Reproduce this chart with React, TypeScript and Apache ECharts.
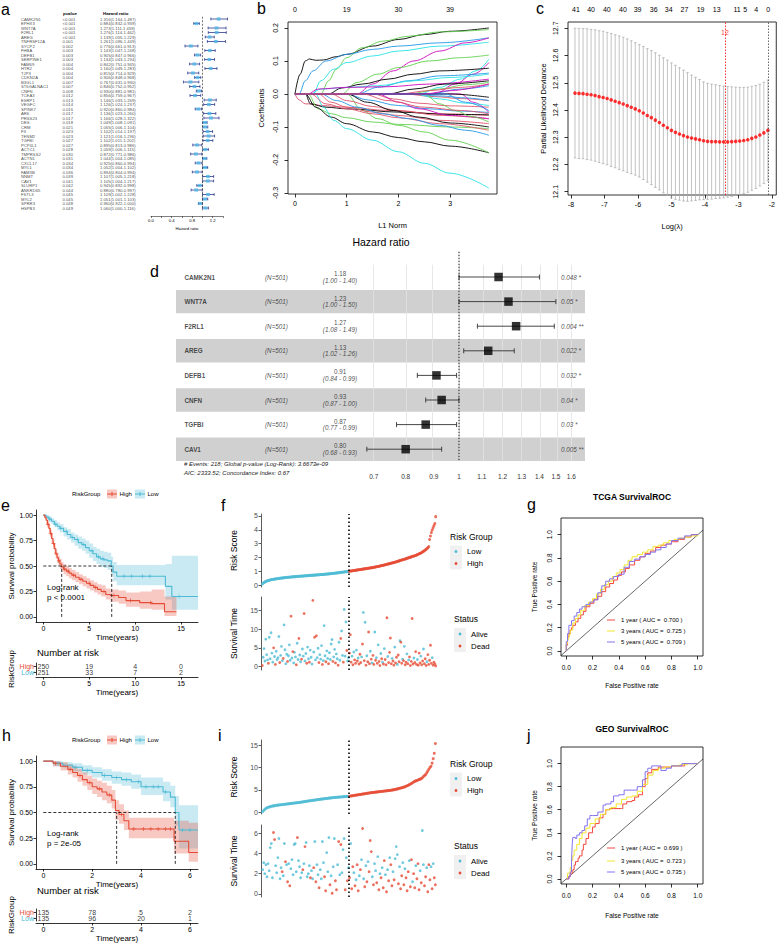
import React, { useEffect, useRef } from "react";
import * as echarts from "echarts";

const FONT = "'Liberation Sans', Arial, Helvetica, sans-serif";
const RED = "#E64B35";
const CYAN = "#4DBBD5";
const RED_FILL = "rgba(230,75,53,0.30)";
const CYAN_FILL = "rgba(77,187,213,0.30)";
const ROC_COLORS = ["#F2483C", "#F2E530", "#8574F0"];
const ROC_LABELS = ["1 year", "3 years", "5 years"];
const R_PAL: any = { k: "#000000", r: "#DF536B", g: "#61D04F", b: "#2297E6", c: "#28E2E5", m: "#CD0BBC" };

// ---------------- panel a : univariate Cox ----------------
const A_GENES = ["CAMK2N1","EPHX3","WNT7A","F2RL1","AREG","TNFRSF12A","SYCP2","FHBA","DEFB1","SERPINE1","FAM69","HTR2","TJP3","CDKN2A","B3GL1","ST6GALNAC1","CNFN","TCEA3","ESRP1","VEGFC","SPINK7","AR6","PRSS23","DES","CRM","F3","TENM2","TGFBI","PCP4L1","ACTC1","TMPRSS2","ACTN1","CXCL17","MYL1","FAM3B","NNMT","CAV1","SLURP1","ANKRD65","FSTL3","MYL2","SPRR3","HSPB3"];
const A_PVAL = ["<0.001","<0.001","<0.001","<0.001","<0.001","0.001","0.002","0.003","0.003","0.003","0.004","0.004","0.004","0.004","0.007","0.007","0.008","0.012","0.013","0.014","0.016","0.017","0.017","0.018","0.021","0.023","0.023","0.027","0.027","0.028","0.030","0.031","0.034","0.034","0.036","0.039","0.041","0.042","0.044","0.045","0.045","0.048","0.049"];
const A_HR = [1.316,0.884,1.273,1.276,1.139,1.261,0.776,1.143,0.905,1.134,0.842,1.160,0.815,0.906,0.767,0.846,0.930,0.856,1.146,1.126,0.920,1.136,1.166,1.049,1.055,1.102,1.121,1.102,0.895,1.059,0.872,1.044,0.925,1.052,0.894,1.107,1.105,0.945,0.880,1.109,1.051,0.960,1.060];
const A_LOW = [1.164,0.832,1.111,1.114,1.055,1.096,0.661,1.047,0.847,1.043,0.751,1.049,0.714,0.848,0.631,0.752,0.881,0.759,1.033,1.024,0.860,1.023,1.028,1.008,1.006,1.014,1.016,1.011,0.813,1.006,0.771,1.004,0.860,1.004,0.804,1.005,1.004,0.892,0.780,1.002,1.001,0.922,1.000];
const A_HIGH = [1.487,0.939,1.459,1.462,1.229,1.449,0.913,1.248,0.966,1.234,0.945,1.283,0.929,0.968,0.930,0.952,0.981,0.967,1.269,1.237,0.984,1.260,1.322,1.091,1.104,1.197,1.236,1.202,0.986,1.115,0.986,1.085,0.994,1.102,0.994,1.218,1.217,0.998,0.997,1.228,1.103,1.000,1.116];
const A_TICKS = [0, 0.2, 0.4, 0.6, 0.8, 1.0, 1.2, 1.4];
const A_LABELS = [0, 0.4, 0.8, 1.2];

// ---------------- panel b : LASSO paths ----------------
const B_COLORS = ["k","g","b","c","m","g","c","m","k","b","c","m","k","g","r","b","r","k","g","k","c","g","r","r","r","r","r","b","b","b","k","m","m","c","g","k","b","m","r"];
const B_PATHS = [
  [[0,0],[0.1,0.06],[0.2,0.1],[0.28,0.106],[0.4,0.102],[0.55,0.103],[0.8,0.113],[1.0,0.12],[1.5,0.145],[2.0,0.165],[2.5,0.18],[3.0,0.19],[3.75,0.2]],
  [[0,0],[0.5,0],[0.65,0.04],[0.8,0.075],[1.0,0.11],[1.3,0.14],[1.7,0.16],[2.2,0.175],[2.8,0.188],[3.75,0.195]],
  [[0,0],[0.08,0],[0.2,0.04],[0.35,0.07],[0.6,0.1],[1.0,0.12],[1.5,0.135],[2.0,0.145],[2.8,0.155],[3.75,0.17]],
  [[0,0],[0.35,0],[0.5,0.04],[0.75,0.075],[1.0,0.095],[1.5,0.115],[2.0,0.13],[2.8,0.145],[3.75,0.157]],
  [[0,0],[1.2,0],[1.5,0.03],[1.9,0.07],[2.3,0.1],[2.8,0.13],[3.3,0.155],[3.75,0.17]],
  [[0,0],[0.9,0],[1.2,0.035],[1.6,0.06],[2.0,0.08],[2.6,0.1],[3.2,0.11],[3.75,0.118]],
  [[0,0],[2.4,0],[2.8,0.02],[3.2,0.045],[3.5,0.07],[3.75,0.105]],
  [[0,0],[2.7,0],[3.1,0.03],[3.45,0.06],[3.75,0.095]],
  [[0,0],[0.65,0],[0.9,0.018],[1.3,0.03],[1.8,0.045],[2.3,0.06],[2.8,0.07],[3.75,0.078]],
  [[0,0],[1.2,0],[1.6,0.02],[2.2,0.04],[2.8,0.055],[3.75,0.063]],
  [[0,0],[0.3,0],[0.5,0.015],[1.0,0.02],[1.6,0.025],[2.3,0.04],[3.0,0.05],[3.75,0.06]],
  [[0,0],[0.25,0],[0.45,0.015],[1.0,0.02],[1.8,0.022],[2.6,0.03],[3.75,0.045]],
  [[0,0],[1.8,0],[2.3,0.015],[2.9,0.03],[3.75,0.04]],
  [[0,0],[2.2,0],[2.8,0.015],[3.3,0.028],[3.75,0.035]],
  [[0,0],[2.0,0],[2.6,0.01],[3.2,0.02],[3.75,0.03]],
  [[0,0],[2.6,0],[3.2,0.015],[3.75,0.025]],
  [[0,0],[0.08,-0.018],[0.2,-0.03],[0.3,-0.03],[0.5,-0.035],[1.0,-0.04],[1.8,-0.05],[2.8,-0.06],[3.75,-0.065]],
  [[0,0],[0.2,0],[0.3,-0.03],[0.6,-0.04],[1.0,-0.045],[2.0,-0.055],[3.0,-0.062],[3.75,-0.063]],
  [[0,0],[0.25,0],[0.45,-0.045],[0.7,-0.06],[1.0,-0.072],[1.5,-0.085],[2.0,-0.092],[3.0,-0.1],[3.75,-0.105]],
  [[0,0],[0.2,0],[0.4,-0.04],[0.7,-0.07],[1.0,-0.09],[1.5,-0.115],[2.0,-0.132],[2.5,-0.145],[3.0,-0.158],[3.75,-0.178]],
  [[0,0],[0.4,0],[0.55,-0.04],[0.75,-0.08],[1.0,-0.105],[1.5,-0.14],[2.0,-0.175],[2.5,-0.21],[3.0,-0.24],[3.75,-0.285]],
  [[0,0],[1.0,0],[1.3,-0.05],[1.6,-0.075],[2.0,-0.095],[2.5,-0.115],[3.0,-0.14],[3.75,-0.178]],
  [[0,0],[0.45,0],[0.7,-0.025],[1.0,-0.04],[1.5,-0.055],[2.0,-0.065],[2.8,-0.08],[3.75,-0.09]],
  [[0,0],[0.7,0],[1.0,-0.02],[1.5,-0.038],[2.0,-0.05],[2.8,-0.065],[3.75,-0.075]],
  [[0,0],[0.3,0],[0.6,-0.03],[1.0,-0.045],[1.5,-0.06],[2.0,-0.072],[2.8,-0.09],[3.75,-0.11]],
  [[0,0],[1.5,0],[1.9,-0.015],[2.4,-0.028],[3.0,-0.036],[3.75,-0.04]],
  [[0,0],[2.1,0],[2.7,-0.008],[3.2,-0.014],[3.75,-0.02]],
  [[0,0],[0.5,0],[0.8,-0.02],[1.2,-0.04],[1.7,-0.06],[2.2,-0.075],[2.8,-0.095],[3.3,-0.11],[3.75,-0.125]],
  [[0,0],[1.0,0],[1.4,-0.018],[2.0,-0.035],[2.6,-0.045],[3.2,-0.052],[3.75,-0.056]],
  [[0,0],[2.2,0],[2.8,-0.006],[3.3,-0.012],[3.75,-0.02]],
  [[0,0],[1.0,0],[1.4,-0.025],[1.9,-0.05],[2.4,-0.07],[3.0,-0.088],[3.75,-0.1]],
  [[0,0],[1.6,0],[2.0,-0.025],[2.4,-0.045],[3.0,-0.065],[3.75,-0.075]],
  [[0,0],[3.2,0],[3.45,-0.025],[3.75,-0.055]],
  [[0,0],[2.3,0],[2.8,-0.015],[3.3,-0.028],[3.75,-0.035]],
  [[0,0],[2.5,0],[2.8,-0.03],[3.1,-0.05],[3.4,-0.068],[3.75,-0.085]],
  [[0,0],[3.0,0],[3.75,-0.01]],
  [[0,0],[2.9,0],[3.3,-0.025],[3.75,-0.05]],
  [[0,0],[2.5,0],[3.0,0.01],[3.75,0.03]],
  [[0,0],[1.3,0],[1.8,-0.02],[2.5,-0.04],[3.2,-0.05],[3.75,-0.06]],
];
const B_TOP_POS = [0, 1, 2, 3];
const B_TOP_DF = [0, 19, 30, 39];

// ---------------- panel c : CV deviance ----------------
const C_LOGLAMBDA = [-7.88,-7.76,-7.64,-7.52,-7.40,-7.28,-7.16,-7.04,-6.92,-6.80,-6.68,-6.56,-6.44,-6.32,-6.20,-6.08,-5.96,-5.84,-5.72,-5.60,-5.48,-5.36,-5.24,-5.12,-5.00,-4.88,-4.76,-4.64,-4.52,-4.40,-4.28,-4.16,-4.04,-3.92,-3.80,-3.68,-3.56,-3.44,-3.32,-3.20,-3.08,-2.96,-2.84,-2.72,-2.60,-2.48,-2.36,-2.24,-2.12];
const C_MEAN = [12.462,12.461,12.460,12.458,12.456,12.453,12.449,12.446,12.442,12.437,12.432,12.427,12.422,12.416,12.410,12.404,12.397,12.389,12.380,12.372,12.363,12.354,12.344,12.335,12.325,12.318,12.312,12.306,12.301,12.297,12.294,12.291,12.287,12.285,12.284,12.284,12.283,12.283,12.283,12.284,12.285,12.286,12.288,12.291,12.296,12.301,12.308,12.316,12.325];
const C_SE = [0.238,0.239,0.239,0.240,0.240,0.241,0.242,0.243,0.243,0.244,0.244,0.245,0.245,0.245,0.244,0.243,0.243,0.244,0.245,0.246,0.247,0.247,0.248,0.248,0.248,0.246,0.243,0.240,0.236,0.231,0.226,0.221,0.216,0.213,0.211,0.209,0.207,0.205,0.203,0.201,0.199,0.197,0.195,0.193,0.191,0.189,0.187,0.186,0.185];
const C_TOP_POS = [-7.85,-7.40,-6.93,-6.45,-6.01,-5.53,-5.08,-4.61,-4.13,-3.65,-3.04,-2.80,-2.47,-2.11];
const C_TOP_DF = [41,40,40,40,39,36,34,27,19,13,11,5,4,0];
const C_MIN_LL = -3.40;
const C_MIN_DF = 12;
const C_1SE_LL = -2.11;

// ---------------- panel d : multivariate forest ----------------
const D_GENES = ["CAMK2N1","WNT7A","F2RL1","AREG","DEFB1","CNFN","TGFBI","CAV1"];
const D_N = [501,501,501,501,501,501,501,501];
const D_HR = [1.18,1.23,1.27,1.13,0.91,0.93,0.87,0.80];
const D_LO = [1.00,1.00,1.08,1.02,0.84,0.87,0.77,0.68];
const D_HI = [1.40,1.50,1.49,1.26,0.99,1.00,0.99,0.93];
const D_PTEXT = ["0.048 *","0.05 *","0.004 **","0.022 *","0.032 *","0.04 *","0.03 *","0.005 **"];
const D_TICKS = [0.7,0.8,0.9,1,1.1,1.2,1.3,1.4,1.5,1.6];
const D_EVENTS = "# Events: 218; Global p-value (Log-Rank): 3.6673e-09";
const D_AIC = "AIC: 2333.52; Concordance Index: 0.67";

// ---------------- panel e : TCGA KM ----------------
const E_HIGH_T = [0,0.15,0.3,0.45,0.6,0.75,0.9,1.05,1.2,1.35,1.5,1.65,1.8,2.0,2.2,2.5,2.8,3.1,3.5,3.9,4.3,4.7,5.1,5.5,5.9,6.3,6.8,7.3,8.2,9.0,10.5,11.8,13.2,14.5];
const E_HIGH_S = [1.0,0.98,0.95,0.91,0.87,0.82,0.77,0.72,0.67,0.62,0.58,0.55,0.52,0.49,0.47,0.45,0.43,0.41,0.39,0.37,0.35,0.33,0.31,0.29,0.27,0.25,0.22,0.21,0.19,0.16,0.14,0.13,0.05,0.05];
const E_HIGH_LO = [1.0,0.96,0.92,0.87,0.83,0.78,0.72,0.67,0.62,0.57,0.53,0.50,0.47,0.44,0.42,0.40,0.38,0.36,0.34,0.32,0.30,0.28,0.26,0.24,0.22,0.20,0.17,0.15,0.13,0.10,0.08,0.07,0.01,0.01];
const E_HIGH_UP = [1.0,1.0,0.98,0.95,0.91,0.86,0.82,0.77,0.72,0.67,0.63,0.60,0.57,0.54,0.52,0.50,0.48,0.46,0.44,0.42,0.40,0.38,0.36,0.34,0.32,0.31,0.28,0.27,0.26,0.24,0.25,0.27,0.20,0.20];
const E_HIGH_CENS = [0.5,0.8,1.1,1.4,1.7,2.3,2.7,3.3,4.1,5.0,5.7,6.6,7.7,9.5,11.7];
const E_LOW_T = [0,0.3,0.6,0.9,1.2,1.5,1.8,2.2,2.6,3.0,3.4,3.8,4.2,4.6,5.0,5.4,5.8,6.2,6.6,7.0,7.4,7.6,8.0,13.3,14.0,16.85];
const E_LOW_S = [1,0.98,0.96,0.94,0.91,0.89,0.87,0.84,0.81,0.78,0.76,0.73,0.71,0.68,0.65,0.62,0.59,0.57,0.56,0.55,0.50,0.44,0.40,0.30,0.20,0.20];
const E_LOW_LO = [1,0.96,0.93,0.91,0.88,0.85,0.83,0.79,0.76,0.73,0.70,0.67,0.65,0.62,0.58,0.55,0.52,0.49,0.48,0.46,0.41,0.35,0.31,0.17,0.07,0.07];
const E_LOW_UP = [1,1.0,0.99,0.97,0.95,0.93,0.91,0.88,0.86,0.83,0.81,0.79,0.77,0.75,0.72,0.69,0.67,0.65,0.64,0.63,0.59,0.54,0.51,0.52,0.60,0.60];
const E_LOW_CENS = [0.7,1.3,1.9,2.5,3.2,3.7,4.4,5.3,6.0,6.5,8.8,9.6,10.8,11.6,14.8];
const E_MEDIANS = [2.0, 7.45];
const E_RISK_T = [0, 5, 10, 15];
const E_RISK_HIGH = [250, 19, 4, 0];
const E_RISK_LOW = [251, 33, 7, 2];

// ---------------- panel h : GEO KM ----------------
const H_HIGH_T = [0,0.4,0.7,1.0,1.2,1.4,1.6,1.8,2.0,2.2,2.4,2.6,2.8,2.95,3.1,3.3,3.5,5.35,5.95,6.33];
const H_HIGH_S = [1,0.98,0.95,0.92,0.89,0.86,0.82,0.79,0.75,0.73,0.70,0.67,0.62,0.52,0.48,0.42,0.34,0.22,0.11,0.11];
const H_HIGH_LO = [1,0.95,0.91,0.87,0.84,0.80,0.76,0.72,0.68,0.65,0.62,0.59,0.54,0.43,0.39,0.33,0.25,0.10,0.02,0.02];
const H_HIGH_UP = [1,1.0,0.99,0.97,0.95,0.92,0.89,0.86,0.83,0.81,0.79,0.76,0.72,0.62,0.58,0.52,0.45,0.42,0.40,0.40];
const H_HIGH_CENS = [0.5,1.1,1.5,1.9,2.3,2.7,3.2,3.7,4.1,4.4,4.7,5.0,5.2];
const H_LOW_T = [0,0.4,0.8,1.2,1.6,2.0,2.4,2.8,3.2,3.6,4.0,4.9,5.2,5.4,5.55,6.33];
const H_LOW_S = [1,0.98,0.96,0.94,0.91,0.89,0.86,0.84,0.82,0.80,0.75,0.70,0.65,0.50,0.33,0.33];
const H_LOW_LO = [1,0.95,0.93,0.90,0.87,0.84,0.81,0.78,0.76,0.73,0.67,0.61,0.55,0.37,0.15,0.15];
const H_LOW_UP = [1,1.0,0.99,0.98,0.96,0.94,0.92,0.90,0.89,0.87,0.84,0.80,0.76,0.66,0.57,0.57];
const H_LOW_CENS = [0.6,1.3,1.8,2.5,3.0,3.4,3.9,4.2,4.5,4.7,5.0,5.7,6.0];
const H_MEDIANS = [3.0, 5.4];
const H_RISK_T = [0, 2, 4, 6];
const H_RISK_HIGH = [135, 78, 5, 2];
const H_RISK_LOW = [135, 96, 20, 1];

// ---------------- panel f : TCGA risk score / survival ----------------
const F_NLOW = 100;
const F_RISK = [0.08,0.14,0.19,0.23,0.26,0.29,0.31,0.33,0.35,0.37,0.39,0.40,0.41,0.42,0.43,0.44,0.45,0.46,0.47,0.48,0.49,0.50,0.51,0.51,0.52,0.53,0.54,0.54,0.55,0.56,0.56,0.57,0.58,0.58,0.59,0.60,0.60,0.61,0.61,0.62,0.62,0.63,0.63,0.64,0.64,0.65,0.65,0.66,0.66,0.67,0.67,0.68,0.68,0.69,0.69,0.70,0.70,0.71,0.71,0.72,0.72,0.73,0.73,0.74,0.74,0.75,0.75,0.76,0.76,0.77,0.77,0.78,0.78,0.79,0.80,0.80,0.81,0.82,0.82,0.83,0.84,0.84,0.85,0.86,0.87,0.87,0.88,0.89,0.90,0.91,0.92,0.93,0.93,0.94,0.95,0.96,0.97,0.97,0.98,0.99,1.00,1.01,1.02,1.03,1.04,1.05,1.06,1.07,1.08,1.09,1.10,1.11,1.12,1.13,1.14,1.15,1.16,1.17,1.18,1.19,1.20,1.21,1.22,1.23,1.24,1.25,1.26,1.27,1.28,1.30,1.31,1.32,1.34,1.35,1.36,1.38,1.39,1.41,1.42,1.44,1.45,1.47,1.48,1.50,1.52,1.53,1.55,1.57,1.58,1.60,1.62,1.63,1.65,1.67,1.69,1.71,1.73,1.75,1.77,1.79,1.81,1.83,1.85,1.87,1.89,1.91,1.93,1.95,1.98,2.00,2.02,2.04,2.06,2.08,2.10,2.12,2.14,2.17,2.20,2.23,2.26,2.29,2.32,2.36,2.40,2.44,2.48,2.53,2.58,2.64,2.70,2.78,3.30,3.55,3.80,3.98,4.15,4.30,4.45,4.95];
const F_TIME = [0.3,2.5,4.8,1.5,7.3,3.2,1.8,0.9,7.8,2.1,9.0,3.6,1.2,5.0,2.7,0.6,4.1,1.9,2.4,8.0,1.1,3.0,5.4,1.6,2.2,11.1,4.5,0.8,3.3,1.4,2.9,5.8,1.7,13.4,2.3,4.0,1.0,3.8,2.6,0.5,6.2,1.9,7.5,3.1,1.3,2.0,4.7,2.8,14.1,1.5,3.5,0.9,5.2,2.1,1.2,4.4,2.5,0.7,17.6,3.9,7.8,1.8,8.2,2.4,4.9,1.1,3.2,2.0,5.6,0.6,1.6,10.9,2.9,1.3,4.2,2.2,0.8,3.7,1.9,6.0,7.2,1.4,2.6,4.6,1.0,3.4,2.1,0.4,6.5,1.7,7.5,9.5,3.0,1.2,15.2,2.8,11.9,4.3,1.5,2.4,3.6,8.5,1.2,2.8,0.5,3.9,1.8,0.9,4.4,1.5,2.3,0.7,3.3,1.1,2.6,6.0,14.4,1.6,11.8,0.4,2.9,1.3,9.2,0.8,4.1,2.0,1.0,3.0,0.6,9.2,1.7,2.4,0.9,5.8,1.4,0.3,3.5,2.1,1.2,0.7,4.8,1.9,0.5,13.0,2.7,1.1,3.8,7.6,0.8,2.2,1.5,0.4,5.2,1.0,2.5,0.6,3.1,1.3,6.9,6.5,0.9,2.0,1.6,5.4,0.5,1.2,3.4,0.8,1.8,2.6,0.3,1.4,12.8,0.7,2.3,1.1,4.0,0.6,1.9,0.4,3.6,1.0,2.8,0.5,1.5,4.7,0.8,2.1,0.3,1.3,3.2,0.6,1.7,5.7,0.9,2.4,0.4,1.2,0.7,0.2];
const F_DEAD = ("1000000100000101000010001000010001010001001001001001001000101010010001000100100001001001001001000100" +
  "1110101101011101010101110101101010110101011101111011011011011010110101111101110111011011101111101111").split("").map(Number);

// ---------------- panel i : GEO risk score / survival ----------------
const I_NLOW = 80;
const I_RISK = [0.05,0.35,0.60,0.80,0.95,1.05,1.12,1.20,1.27,1.33,1.38,1.43,1.48,1.52,1.55,1.58,1.61,1.64,1.67,1.70,1.73,1.76,1.79,1.82,1.85,1.88,1.92,1.95,1.98,2.01,2.04,2.07,2.10,2.13,2.16,2.20,2.24,2.28,2.32,2.36,2.40,2.44,2.48,2.52,2.55,2.58,2.62,2.65,2.69,2.72,2.76,2.79,2.83,2.86,2.90,2.93,2.96,3.00,3.03,3.06,3.09,3.12,3.15,3.18,3.21,3.24,3.26,3.29,3.31,3.33,3.35,3.37,3.39,3.41,3.43,3.45,3.47,3.49,3.51,3.53,3.56,3.60,3.64,3.68,3.72,3.76,3.80,3.84,3.88,3.92,3.96,4.00,4.04,4.08,4.12,4.16,4.20,4.24,4.28,4.32,4.35,4.38,4.41,4.44,4.47,4.50,4.53,4.56,4.59,4.62,4.65,4.68,4.71,4.74,4.77,4.80,4.83,4.86,4.89,4.93,4.98,5.03,5.08,5.14,5.20,5.26,5.32,5.38,5.45,5.52,5.60,5.68,5.78,5.90,6.02,6.15,6.28,6.42,6.58,6.74,6.90,7.00,7.10,7.20,7.30,7.40,7.50,7.70,8.00,8.20,8.40,8.80,9.20,9.60,10.0,10.3,11.0,12.0,13.2,15.4];
const I_TIME = [2.4,3.1,2.0,2.9,1.7,3.0,2.3,4.6,5.0,1.6,6.1,5.4,2.8,2.1,3.6,5.5,1.5,2.6,2.2,1.8,5.0,3.2,2.9,1.2,3.0,0.8,2.5,3.4,1.9,4.9,5.0,2.2,5.6,3.3,2.7,1.6,2.1,2.4,3.0,4.7,5.1,1.7,2.0,2.8,1.6,2.3,1.5,2.6,5.2,1.2,2.9,1.9,0.6,2.4,1.5,5.2,3.1,1.7,0.3,4.1,2.2,5.6,0.9,1.8,0.05,2.7,5.5,1.3,0.4,2.9,5.2,1.9,4.9,2.1,4.4,5.5,0.4,3.6,1.3,2.6,1.6,5.0,0.5,2.7,2.1,0.8,1.4,2.9,0.3,1.8,2.4,3.4,6.5,1.5,0.7,2.8,1.2,3.2,2.2,5.3,4.2,1.7,0.9,3.0,2.3,1.1,3.7,0.4,2.0,1.6,2.6,0.6,3.3,1.9,0.2,2.4,1.3,3.6,2.9,0.8,2.2,1.4,3.5,4.7,3.9,1.0,2.7,0.5,1.8,3.1,0.9,2.5,1.6,0.3,2.2,3.3,0.7,3.4,1.2,2.0,0.6,2.8,1.5,3.0,0.4,2.3,1.1,6.3,2.9,0.8,1.7,2.6,0.2,2.9,1.4,2.7,0.5,3.0,1.6,0.9];
const I_DEAD = ("00000000001100000010010101000000100001010000100101001000011000101001101010001010" +
  "10110101101010101011101001010101101010110100010110101110110110111010011011101011").split("").map(Number);

// ---------------- panels g / j : time-dependent ROC ----------------
const G_FPR = [
  [0,0,0.01,0.01,0.02,0.03,0.04,0.05,0.07,0.09,0.11,0.13,0.15,0.18,0.21,0.24,0.27,0.30,0.33,0.36,0.39,0.42,0.45,0.48,0.52,0.56,0.60,0.64,0.68,0.72,0.76,0.80,0.85,0.90,0.95,1.0],
  [0,0,0.01,0.02,0.03,0.05,0.07,0.09,0.11,0.14,0.17,0.2,0.23,0.26,0.29,0.32,0.35,0.38,0.41,0.44,0.47,0.5,0.54,0.58,0.62,0.66,0.7,0.74,0.78,0.82,0.86,0.9,0.95,1.0],
  [0,0,0.01,0.02,0.04,0.06,0.08,0.1,0.12,0.15,0.18,0.21,0.24,0.27,0.3,0.33,0.36,0.4,0.44,0.48,0.52,0.56,0.6,0.64,0.68,0.72,0.76,0.8,0.85,0.9,0.95,1.0],
];
const G_TPR = [
  [0,0.05,0.08,0.12,0.15,0.18,0.2,0.22,0.25,0.28,0.31,0.34,0.38,0.41,0.44,0.47,0.51,0.55,0.58,0.61,0.65,0.68,0.71,0.74,0.78,0.81,0.84,0.86,0.89,0.91,0.92,0.94,0.96,0.98,1.0,1.0],
  [0,0.06,0.1,0.14,0.18,0.24,0.28,0.31,0.35,0.39,0.42,0.45,0.49,0.53,0.57,0.6,0.64,0.67,0.7,0.74,0.78,0.81,0.83,0.85,0.87,0.9,0.91,0.93,0.95,0.96,0.97,0.98,0.99,1.0],
  [0,0.08,0.15,0.22,0.26,0.3,0.33,0.36,0.38,0.4,0.42,0.44,0.5,0.56,0.6,0.62,0.64,0.66,0.72,0.77,0.79,0.81,0.83,0.85,0.87,0.89,0.92,0.95,0.97,0.99,1.0,1.0],
];
const G_AUC = [0.700, 0.725, 0.709];
const J_FPR = [
  [0,0.02,0.03,0.05,0.06,0.07,0.09,0.1,0.12,0.13,0.15,0.17,0.2,0.22,0.25,0.28,0.3,0.33,0.36,0.42,0.43,0.46,0.5,0.52,0.55,0.58,0.6,0.62,0.65,0.7,0.8,0.9,1.0],
  [0,0.01,0.03,0.04,0.05,0.06,0.08,0.1,0.12,0.15,0.18,0.22,0.26,0.3,0.34,0.38,0.42,0.46,0.5,0.54,0.58,0.62,0.66,0.7,0.75,0.8,0.86,0.92,1.0],
  [0,0.02,0.03,0.04,0.045,0.05,0.07,0.08,0.1,0.12,0.14,0.16,0.18,0.2,0.24,0.28,0.3,0.34,0.36,0.4,0.44,0.5,0.54,0.58,0.6,0.62,0.65,0.72,0.76,0.8,0.88,0.95,1.0],
];
const J_TPR = [
  [0,0.02,0.05,0.08,0.12,0.15,0.18,0.2,0.25,0.3,0.35,0.4,0.45,0.48,0.53,0.56,0.6,0.61,0.61,0.61,0.65,0.67,0.68,0.71,0.73,0.8,0.87,0.92,0.95,0.97,0.98,1.0,1.0],
  [0,0.05,0.1,0.16,0.2,0.25,0.3,0.35,0.4,0.44,0.48,0.52,0.56,0.6,0.62,0.65,0.69,0.71,0.72,0.76,0.82,0.9,0.94,0.96,0.97,0.98,0.99,1.0,1.0],
  [0,0.02,0.06,0.15,0.3,0.36,0.35,0.38,0.4,0.42,0.46,0.52,0.55,0.55,0.58,0.64,0.65,0.67,0.72,0.73,0.77,0.77,0.8,0.86,0.93,0.96,0.98,0.94,0.96,0.98,1.0,1.0,1.0],
];
const J_AUC = [0.699, 0.723, 0.735];

const PLUS = "path://M0,4L10,4L10,6L0,6Z M4,0L6,0L6,10L4,10Z";

function buildOption() {
  const grid: any[] = [];
  const xAxis: any[] = [];
  const yAxis: any[] = [];
  const series: any[] = [];
  const graphic: any[] = [];

  const addGrid = (left: number, top: number, width: number, height: number, box = false) => {
    grid.push({ left, top, width, height, containLabel: false, show: box, borderColor: "#000", borderWidth: 0.8, backgroundColor: "transparent" });
    return grid.length - 1;
  };
  const addX = (a: any) => { xAxis.push(a); return xAxis.length - 1; };
  const addY = (a: any) => { yAxis.push(a); return yAxis.length - 1; };
  const txt = (x: number, y: number, text: string, o: any = {}) => {
    const al = o.align || "left";
    const va = o.valign || "middle";
    graphic.push({
      type: "text", x, y, rotation: o.rot || 0, silent: true, z: 10,
      style: { text, fill: o.fill || "#000", fontSize: o.size || 7, fontFamily: FONT, fontWeight: o.weight || "normal", fontStyle: o.italic ? "italic" : "normal", textAlign: al, textVerticalAlign: va, align: al, verticalAlign: va },
    });
  };
  const gline = (x1: number, y1: number, x2: number, y2: number, stroke: string, w = 1) =>
    graphic.push({ type: "line", shape: { x1, y1, x2, y2 }, style: { stroke, lineWidth: w }, silent: true, z: 10 });
  const grect = (x: number, y: number, w: number, h: number, fill: string) =>
    graphic.push({ type: "rect", shape: { x, y, width: w, height: h }, style: { fill }, silent: true, z: 9 });
  const gcircle = (cx: number, cy: number, r: number, fill: string) =>
    graphic.push({ type: "circle", shape: { cx, cy, r }, style: { fill }, silent: true, z: 10 });

  const rAxis = (o: any) => ({
    type: "value", gridIndex: o.gridIndex, min: o.min, max: o.max, position: o.position,
    axisLine: { show: false, onZero: false },
    axisTick: { show: !o.noTicks, inside: false, length: 3.5, customValues: o.ticks, lineStyle: { color: "#000", width: 0.8 } },
    axisLabel: { show: true, customValues: o.labels || o.ticks, rotate: o.rotate || 0, fontSize: o.fontSize || 7, margin: o.margin ?? 5, color: "#000", fontFamily: FONT, formatter: o.fmt || ((v: number) => String(v)) },
    splitLine: { show: false },
    name: o.name || "", nameLocation: "middle", nameGap: o.nameGap || 20,
    nameTextStyle: { fontSize: o.nameSize || 7.5, fontFamily: FONT, color: "#000" },
  });
  const gAxis = (o: any) => ({
    type: "value", gridIndex: o.gridIndex, min: o.min, max: o.max, position: o.position, offset: o.offset || 0,
    axisLine: { show: true, onZero: false, lineStyle: { color: o.lineColor || "#000", width: 0.8 } },
    axisTick: { show: true, length: 2.5, customValues: o.ticks, lineStyle: { color: o.lineColor || "#000", width: 0.8 } },
    axisLabel: { show: true, customValues: o.ticks, fontSize: o.fontSize || 7, color: o.labelColor || "#000", margin: o.margin ?? 2.5, fontFamily: FONT, formatter: o.fmt || ((v: number) => String(v)) },
    splitLine: { show: false },
    name: o.name || "", nameLocation: "middle", nameGap: o.nameGap || 15,
    nameTextStyle: { fontSize: o.nameSize || 8, fontFamily: FONT, color: "#000" },
  });
  const labelScatter = (xi: number, yi: number, data: any[], label: any, z = 4) => ({
    type: "scatter", xAxisIndex: xi, yAxisIndex: yi, data, symbolSize: 1, silent: true, z,
    itemStyle: { color: "rgba(0,0,0,0)" },
    label: { show: true, position: "inside", align: "left", formatter: (p: any) => p.name, fontFamily: FONT, color: "#000", ...label },
  });

  // panel letters
  const letters: any[] = [["a", 1, 15], ["b", 257, 14], ["c", 536, 14], ["d", 150, 277], ["e", 1, 511], ["f", 221, 511], ["g", 527, 510], ["h", 2, 741], ["i", 218, 741], ["j", 527, 741]];
  letters.forEach(([l, x, b]) => txt(x, b - 5.6, l, { size: 16 }));

  // ================= panel a =================
  {
    const top = 16.75, rowH = 4.5, h = rowH * A_GENES.length;
    const gF = addGrid(151, top, 72, h);
    const xF = addX({
      type: "value", gridIndex: gF, min: 0, max: 1.4, position: "bottom", offset: 6,
      axisLine: { show: true, onZero: false, lineStyle: { color: "#000", width: 0.5 } },
      axisTick: { show: true, length: 1.8, customValues: A_TICKS, lineStyle: { color: "#000", width: 0.5 } },
      axisLabel: { customValues: A_LABELS, fontSize: 4.2, margin: 2.5, color: "#000", fontFamily: FONT, formatter: (v: number) => v.toFixed(1) },
      splitLine: { show: false },
      name: "Hazard ratio", nameLocation: "middle", nameGap: 10, nameTextStyle: { fontSize: 4.2, fontFamily: FONT, color: "#000" },
    });
    const yF = addY({ type: "category", gridIndex: gF, data: A_GENES, inverse: true, show: false });
    series.push({
      type: "custom", xAxisIndex: xF, yAxisIndex: yF, z: 2, silent: true,
      data: A_GENES.map((g, i) => [A_LOW[i], A_HIGH[i], i]), encode: { x: [0, 1], y: 2 },
      renderItem: (params: any, api: any) => {
        const a = api.coord([api.value(0), api.value(2)]);
        const b = api.coord([api.value(1), api.value(2)]);
        const st = { stroke: "#2B3990", lineWidth: 0.8 };
        return { type: "group", children: [
          { type: "line", shape: { x1: a[0], y1: a[1], x2: b[0], y2: b[1] }, style: st },
          { type: "line", shape: { x1: a[0], y1: a[1] - 1.4, x2: a[0], y2: a[1] + 1.4 }, style: st },
          { type: "line", shape: { x1: b[0], y1: b[1] - 1.4, x2: b[0], y2: b[1] + 1.4 }, style: st },
        ] };
      },
    });
    series.push({
      type: "scatter", xAxisIndex: xF, yAxisIndex: yF, z: 3, silent: true,
      data: A_HR.map((v, i) => [v, i]), symbol: "rect", symbolSize: [3.8, 3.2], itemStyle: { color: "#4EB6E6" },
      markLine: { silent: true, symbol: "none", label: { show: false }, lineStyle: { type: [2, 1.5], color: "#333", width: 0.7 }, data: [{ xAxis: 1 }] },
    });
    const gT = addGrid(20, top, 130, h);
    const xT = addX({ type: "value", gridIndex: gT, min: 0, max: 130, show: false });
    const yT = addY({ type: "category", gridIndex: gT, data: A_GENES, inverse: true, show: false });
    const rows: any[] = [];
    A_GENES.forEach((g, i) => {
      rows.push({ value: [1, i], name: g });
      rows.push({ value: [42.5, i], name: A_PVAL[i] });
      rows.push({ value: [80, i], name: `${A_HR[i].toFixed(3)}(${A_LOW[i].toFixed(3)}-${A_HIGH[i].toFixed(3)})` });
    });
    series.push(labelScatter(xT, yT, rows, { fontSize: 4.2, color: "#111" }));
    txt(63, 13.5, "pvalue", { size: 4.4, weight: "bold" });
    txt(103, 13.5, "Hazard ratio", { size: 4.4, weight: "bold" });
  }

  // ================= panel b =================
  {
    const g = addGrid(288, 22, 209, 172, true);
    const x = addX(rAxis({ gridIndex: g, min: -0.135, max: 3.907, ticks: [0, 1, 2, 3], position: "bottom", margin: 6, name: "L1 Norm", nameGap: 27 }));
    addX({
      type: "value", gridIndex: g, min: -0.135, max: 3.907, position: "top",
      axisLine: { show: false, onZero: false }, axisTick: { show: false }, splitLine: { show: false },
      axisLabel: { customValues: B_TOP_POS, fontSize: 7, margin: 9, color: "#000", fontFamily: FONT, formatter: (v: number) => String(B_TOP_DF[B_TOP_POS.indexOf(v)]) },
    });
    const y = addY(rAxis({ gridIndex: g, min: -0.303, max: 0.218, ticks: [-0.3, -0.2, -0.1, 0, 0.1, 0.2], position: "left", rotate: 90, margin: 9, fmt: (v: number) => v.toFixed(1), name: "Coefficients", nameGap: 23 }));
    B_PATHS.forEach((p, k) => {
      series.push({
        type: "line", xAxisIndex: x, yAxisIndex: y, data: p, smooth: 0.35, smoothMonotone: "x",
        showSymbol: false, silent: true, lineStyle: { color: R_PAL[B_COLORS[k]], width: 0.9 }, z: 2,
      });
    });
  }

  // ================= panel c =================
  {
    const g = addGrid(568, 22, 209, 173, true);
    const x = addX(rAxis({ gridIndex: g, min: -8.089, max: -1.869, ticks: [-8, -7, -6, -5, -4, -3, -2], position: "bottom", margin: 6, name: "Log(λ)", nameGap: 27 }));
    addX({
      type: "value", gridIndex: g, min: -8.089, max: -1.869, position: "top",
      axisLine: { show: false, onZero: false }, axisTick: { show: false }, splitLine: { show: false },
      axisLabel: { customValues: C_TOP_POS, fontSize: 7, margin: 9, color: "#000", fontFamily: FONT,
        formatter: (v: number) => { const k = C_TOP_POS.findIndex((t) => Math.abs(t - v) < 1e-6); return k >= 0 ? String(C_TOP_DF[k]) : ""; } },
    });
    const y = addY(rAxis({ gridIndex: g, min: 12.088, max: 12.723, ticks: [12.1, 12.2, 12.3, 12.4, 12.5, 12.6, 12.7], position: "left", rotate: 90, margin: 9, fmt: (v: number) => v.toFixed(1), name: "Partial Likelihood Deviance", nameGap: 21 }));
    series.push({
      type: "custom", xAxisIndex: x, yAxisIndex: y, silent: true, z: 2,
      data: C_LOGLAMBDA.map((l, i) => [l, C_MEAN[i] - C_SE[i], C_MEAN[i] + C_SE[i]]), encode: { x: 0, y: [1, 2] },
      renderItem: (params: any, api: any) => {
        const a = api.coord([api.value(0), api.value(1)]);
        const b = api.coord([api.value(0), api.value(2)]);
        const st = { stroke: "#A9A9A9", lineWidth: 0.7 };
        return { type: "group", children: [
          { type: "line", shape: { x1: a[0], y1: a[1], x2: b[0], y2: b[1] }, style: st },
          { type: "line", shape: { x1: a[0] - 1.3, y1: a[1], x2: a[0] + 1.3, y2: a[1] }, style: st },
          { type: "line", shape: { x1: b[0] - 1.3, y1: b[1], x2: b[0] + 1.3, y2: b[1] }, style: st },
        ] };
      },
    });
    series.push({
      type: "scatter", xAxisIndex: x, yAxisIndex: y, z: 3, silent: true,
      data: C_LOGLAMBDA.map((l, i) => [l, C_MEAN[i]]), symbolSize: 3.6, itemStyle: { color: "#FF0000" },
      markLine: { silent: true, symbol: "none", label: { show: false }, data: [
        { xAxis: C_MIN_LL, lineStyle: { color: "#FF0000", type: [1.5, 1.5], width: 0.8 } },
        { xAxis: C_1SE_LL, lineStyle: { color: "#444", type: [1.5, 1.5], width: 0.8 } },
      ] },
    });
    series.push(labelScatter(x, y, [{ value: [C_MIN_LL, 12.686], name: String(C_MIN_DF) }], { fontSize: 7, color: "#FF0000", align: "center" }));
  }

  // ================= panel d =================
  {
    const rowH = 24.6, top = 277 - rowH / 2, h = rowH * D_GENES.length;
    txt(381, 242, "Hazard ratio", { size: 10.5, align: "center" });
    const gT = addGrid(176, top, 409, h);
    const xT = addX({ type: "value", gridIndex: gT, min: 0, max: 409, show: false });
    const yT = addY({ type: "category", gridIndex: gT, data: D_GENES, inverse: true, show: false });
    series.push({
      type: "custom", xAxisIndex: xT, yAxisIndex: yT, silent: true, z: 1,
      data: D_GENES.map((g, i) => [0, i]).filter((d) => d[1] % 2 === 1), encode: { x: 0, y: 1 },
      renderItem: (params: any, api: any) => {
        const c = api.coord([0, api.value(1)]);
        const hh = api.size([0, 1])[1];
        const cs = params.coordSys;
        return { type: "rect", shape: { x: cs.x, y: c[1] - hh / 2 + 0.6, width: cs.width, height: hh - 1.2 }, style: { fill: "#D0D0D0" } };
      },
    });
    const labs: any[] = [];
    D_GENES.forEach((g, i) => {
      labs.push({ value: [8.5, i], name: g, label: { fontWeight: "bold" } });
      labs.push({ value: [89, i], name: `(N=${D_N[i]})`, label: { fontStyle: "italic" } });
      labs.push({ value: [164, i], name: D_HR[i].toFixed(2), label: { align: "center", offset: [0, -3.5] } });
      labs.push({ value: [164, i], name: `(${D_LO[i].toFixed(2)} - ${D_HI[i].toFixed(2)})`, label: { align: "center", fontStyle: "italic", offset: [0, 3] } });
      labs.push({ value: [385, i], name: D_PTEXT[i], label: { fontStyle: "italic" } });
    });
    series.push(labelScatter(xT, yT, labs, { fontSize: 6.3, color: "#222" }));

    const gF = addGrid(363.4, top, 215.1, h);
    const xF = addX({
      type: "value", gridIndex: gF, min: -0.4, max: 0.5, position: "bottom",
      axisLine: { show: false, onZero: false }, axisTick: { show: false }, splitLine: { show: false },
      axisLabel: { customValues: D_TICKS.map((t) => Math.log(t)), fontSize: 6.5, color: "#333", margin: 11, fontFamily: FONT,
        formatter: (v: number) => { const k = D_TICKS.findIndex((t) => Math.abs(Math.log(t) - v) < 1e-6); return k >= 0 ? String(D_TICKS[k]) : ""; } },
    });
    const yF = addY({ type: "category", gridIndex: gF, data: D_GENES, inverse: true, show: false });
    series.push({
      type: "custom", xAxisIndex: xF, yAxisIndex: yF, silent: true, z: 3,
      data: D_GENES.map((g, i) => [Math.log(D_LO[i]), Math.log(D_HI[i]), i]), encode: { x: [0, 1], y: 2 },
      renderItem: (params: any, api: any) => {
        const a = api.coord([api.value(0), api.value(2)]);
        const b = api.coord([api.value(1), api.value(2)]);
        const st = { stroke: "#333", lineWidth: 0.9 };
        return { type: "group", children: [
          { type: "line", shape: { x1: a[0], y1: a[1], x2: b[0], y2: b[1] }, style: st },
          { type: "line", shape: { x1: a[0], y1: a[1] - 2.5, x2: a[0], y2: a[1] + 2.5 }, style: st },
          { type: "line", shape: { x1: b[0], y1: b[1] - 2.5, x2: b[0], y2: b[1] + 2.5 }, style: st },
        ] };
      },
    });
    series.push({
      type: "custom", xAxisIndex: xF, yAxisIndex: yF, silent: true, z: 4, clip: false,
      data: [[0, 0]], encode: { x: 0, y: 1 },
      renderItem: (params: any, api: any) => {
        const c = api.coord([0, 0]);
        const cs = params.coordSys;
        return { type: "line", shape: { x1: c[0], y1: cs.y - 13, x2: c[0], y2: cs.y + cs.height }, style: { stroke: "#000", lineWidth: 0.9, lineDash: [1.5, 1.5] } };
      },
    });
    series.push({
      type: "scatter", xAxisIndex: xF, yAxisIndex: yF, silent: true, z: 5,
      data: D_HR.map((v, i) => [Math.log(v), i]), symbol: "rect", symbolSize: 8.5, itemStyle: { color: "#000" },
      markLine: { silent: true, symbol: "none", label: { show: false }, z: 2, lineStyle: { color: "#E2E2E2", type: "solid", width: 0.8 },
        data: D_TICKS.map((t) => ({ xAxis: Math.log(t) })) },
    });
    txt(184, 464, D_EVENTS, { size: 6, italic: true, fill: "#222" });
    txt(184, 473, D_AIC, { size: 6, italic: true, fill: "#222" });
  }

  // ================= survival (e, h) =================
  const survAt = (T: number[], S: number[], t: number) => { let k = 0; for (let i = 0; i < T.length; i++) if (T[i] <= t) k = i; return S[k]; };
  const stepBand = (T: number[], LO: number[], UP: number[], fill: string, xi: number, yi: number) => ({
    type: "custom", xAxisIndex: xi, yAxisIndex: yi, silent: true, z: 1, data: [[T[0], LO[0]]], encode: { x: 0, y: 1 },
    renderItem: (params: any, api: any) => {
      const pts: any[] = [];
      for (let i = 0; i < T.length; i++) { pts.push(api.coord([T[i], UP[i]])); if (i < T.length - 1) pts.push(api.coord([T[i + 1], UP[i]])); }
      for (let i = T.length - 1; i >= 0; i--) { if (i < T.length - 1) pts.push(api.coord([T[i + 1], LO[i]])); pts.push(api.coord([T[i], LO[i]])); }
      return { type: "polygon", shape: { points: pts }, style: { fill } };
    },
  });
  const riskLegend = (y: number) => {
    txt(72, y, "RiskGroup", { size: 6 });
    const items: any[] = [[107, RED, RED_FILL, "High"], [135, CYAN, CYAN_FILL, "Low"]];
    items.forEach(([x, c, f, l]) => {
      grect(x, y - 4.5, 10, 9, f);
      gline(x, y, x + 10, y, c, 1);
      gline(x + 5, y - 2, x + 5, y + 2, c, 1);
      txt(x + 12.5, y, l, { size: 6 });
    });
  };
  const survival = (o: any) => {
    const g = addGrid(36, o.top, 162, o.h);
    const x = addX(gAxis({ gridIndex: g, min: o.xMin, max: o.xMax, ticks: o.ticks, position: "bottom", margin: 2.5, name: "Time(years)", nameGap: 11 }));
    const y = addY(gAxis({ gridIndex: g, min: -0.05, max: 1.05, ticks: [0, 0.25, 0.5, 0.75, 1], position: "left", margin: 3, fmt: (v: number) => v.toFixed(2), name: "Survival probability", nameGap: 20 }));
    o.curves.forEach((c: any) => series.push(stepBand(c.T, c.LO, c.UP, c.fill, x, y)));
    o.curves.forEach((c: any) => series.push({
      type: "line", xAxisIndex: x, yAxisIndex: y, step: "end", showSymbol: false, silent: true, z: 3,
      data: c.T.map((t: number, i: number) => [t, c.S[i]]), lineStyle: { color: c.color, width: 1.1 },
    }));
    o.curves.forEach((c: any) => series.push({
      type: "scatter", xAxisIndex: x, yAxisIndex: y, silent: true, z: 4, symbol: PLUS, symbolSize: 4,
      data: c.C.map((t: number) => [t, survAt(c.T, c.S, t)]), itemStyle: { color: c.color },
    }));
    const dash = { color: "#000", width: 0.8, type: [3, 2] };
    series.push({ type: "line", xAxisIndex: x, yAxisIndex: y, silent: true, z: 5, showSymbol: false, data: [[0, 0.5], [Math.max(...o.medians), 0.5]], lineStyle: dash });
    o.medians.forEach((m: number) => series.push({ type: "line", xAxisIndex: x, yAxisIndex: y, silent: true, z: 5, showSymbol: false, data: [[m, 0], [m, 0.5]], lineStyle: dash }));
    txt(47, o.pY, "Log-rank", { size: 8 });
    txt(47, o.pY + 10.5, o.pText, { size: 8 });
    txt(37, o.narY, "Number at risk", { size: 9.5 });
    const gt = addGrid(36, o.tTop, 162, 12);
    const xt = addX(gAxis({ gridIndex: gt, min: o.xMin, max: o.xMax, ticks: o.ticks, position: "bottom", offset: 2, margin: 2.5, name: "Time(years)", nameGap: 11 }));
    const yt = addY({
      type: "category", gridIndex: gt, data: ["High", "Low"], inverse: true, position: "left",
      axisLine: { show: true, onZero: false, lineStyle: { color: "#000", width: 0.8 } },
      axisTick: { show: true, length: 2.5, alignWithLabel: true, interval: 0, lineStyle: { color: "#000", width: 0.8 } },
      axisLabel: { interval: 0, fontSize: 7, margin: 2, fontFamily: FONT, color: (v: string) => (v === "High" ? RED : CYAN) },
      name: "RiskGroup", nameLocation: "middle", nameGap: 20, nameTextStyle: { fontSize: 8, fontFamily: FONT, color: "#000" },
    });
    const tl: any[] = [];
    o.riskT.forEach((t: number, i: number) => { tl.push({ value: [t, 0], name: String(o.riskHigh[i]) }); tl.push({ value: [t, 1], name: String(o.riskLow[i]) }); });
    series.push(labelScatter(xt, yt, tl, { fontSize: 7, align: "center" }));
    riskLegend(o.legY);
  };
  survival({
    top: 510, h: 112, xMin: -0.8, xMax: 16.85, ticks: [0, 5, 10, 15], medians: E_MEDIANS, pY: 587, pText: "p < 0.0001",
    narY: 652, tTop: 663, riskT: E_RISK_T, riskHigh: E_RISK_HIGH, riskLow: E_RISK_LOW, legY: 494,
    curves: [
      { T: E_LOW_T, S: E_LOW_S, LO: E_LOW_LO, UP: E_LOW_UP, C: E_LOW_CENS, color: CYAN, fill: CYAN_FILL },
      { T: E_HIGH_T, S: E_HIGH_S, LO: E_HIGH_LO, UP: E_HIGH_UP, C: E_HIGH_CENS, color: RED, fill: RED_FILL },
    ],
  });
  survival({
    top: 756, h: 113, xMin: -0.3, xMax: 6.33, ticks: [0, 2, 4, 6], medians: H_MEDIANS, pY: 833, pText: "p = 2e-05",
    narY: 890, tTop: 909, riskT: H_RISK_T, riskHigh: H_RISK_HIGH, riskLow: H_RISK_LOW, legY: 740,
    curves: [
      { T: H_LOW_T, S: H_LOW_S, LO: H_LOW_LO, UP: H_LOW_UP, C: H_LOW_CENS, color: CYAN, fill: CYAN_FILL },
      { T: H_HIGH_T, S: H_HIGH_S, LO: H_HIGH_LO, UP: H_HIGH_UP, C: H_HIGH_CENS, color: RED, fill: RED_FILL },
    ],
  });

  // ================= risk plots (f, i) =================
  const riskPanel = (o: any) => {
    const n = o.risk.length, nLow = o.nLow;
    const dotted = { silent: true, symbol: "none", label: { show: false }, lineStyle: { color: "#000", type: [1.6, 2.4], width: 1.6 }, data: [{ xAxis: nLow - 0.5 }] };
    const g1 = addGrid(261, o.rTop, 176, o.rH);
    const x1 = addX({ type: "value", gridIndex: g1, min: -1.5, max: n + 0.5, show: false });
    const y1 = addY(gAxis({ gridIndex: g1, min: o.rMin, max: o.rMax, ticks: o.rTicks, position: "left", labelColor: "#4D4D4D", lineColor: "#333", margin: 3, name: "Risk Score", nameGap: 23, nameSize: 8.5 }));
    series.push({ type: "scatter", xAxisIndex: x1, yAxisIndex: y1, silent: true, symbolSize: 3, itemStyle: { color: CYAN }, data: o.risk.slice(0, nLow).map((v: number, i: number) => [i, v]), markLine: dotted });
    series.push({ type: "scatter", xAxisIndex: x1, yAxisIndex: y1, silent: true, symbolSize: 3, itemStyle: { color: RED }, data: o.risk.slice(nLow).map((v: number, i: number) => [i + nLow, v]) });
    const g2 = addGrid(261, o.sTop, 176, o.sH);
    const x2 = addX({ type: "value", gridIndex: g2, min: -1.5, max: n + 0.5, show: false });
    const y2 = addY(gAxis({ gridIndex: g2, min: o.sMin, max: o.sMax, ticks: o.sTicks, position: "left", labelColor: "#4D4D4D", lineColor: "#333", margin: 3, name: "Survival Time", nameGap: 23, nameSize: 8.5 }));
    const pts = o.time.map((t: number, i: number) => [i, t, o.dead[i]]);
    series.push({ type: "scatter", xAxisIndex: x2, yAxisIndex: y2, silent: true, symbolSize: 2.8, itemStyle: { color: CYAN }, data: pts.filter((d: any) => d[2] === 0).map((d: any) => [d[0], d[1]]) });
    series.push({ type: "scatter", xAxisIndex: x2, yAxisIndex: y2, silent: true, symbolSize: 2.8, itemStyle: { color: RED }, data: pts.filter((d: any) => d[2] === 1).map((d: any) => [d[0], d[1]]), markLine: dotted });
    txt(450, o.lg1, "Risk Group", { size: 8.5 });
    grect(450, o.lg1 + 8.5, 12, 24, "#F0F0F0");
    gcircle(456, o.lg1 + 14.5, 1.4, CYAN); txt(467, o.lg1 + 14.5, "Low", { size: 7.8 });
    gcircle(456, o.lg1 + 26.5, 1.4, RED); txt(467, o.lg1 + 26.5, "High", { size: 7.8 });
    txt(454, o.lg2, "Status", { size: 8.5 });
    grect(454, o.lg2 + 9, 12, 24, "#F0F0F0");
    gcircle(460, o.lg2 + 15, 1.4, CYAN); txt(471, o.lg2 + 15, "Alive", { size: 7.8 });
    gcircle(460, o.lg2 + 27, 1.4, RED); txt(471, o.lg2 + 27, "Dead", { size: 7.8 });
  };
  riskPanel({ risk: F_RISK, time: F_TIME, dead: F_DEAD, nLow: F_NLOW, rTop: 514, rH: 73, rMin: -0.14, rMax: 5.14, rTicks: [0, 1, 2, 3, 4, 5],
    sTop: 597, sH: 73, sMin: -0.88, sMax: 18.5, sTicks: [0, 5, 10, 15], lg1: 537, lg2: 619 });
  riskPanel({ risk: I_RISK, time: I_TIME, dead: I_DEAD, nLow: I_NLOW, rTop: 740, rH: 74, rMin: -0.45, rMax: 16.2, rTicks: [0, 5, 10, 15],
    sTop: 825, sH: 72, sMin: -0.32, sMax: 6.85, sTicks: [0, 2, 4, 6], lg1: 764, lg2: 846 });

  // ================= ROC (g, j) =================
  const roc = (o: any) => {
    const g = addGrid(561, o.top, 142, o.h, true);
    const ticks = [0, 0.2, 0.4, 0.6, 0.8, 1.0];
    const x = addX(rAxis({ gridIndex: g, min: -0.04, max: 1.04, ticks, position: "bottom", fontSize: 6.5, margin: 8, fmt: (v: number) => v.toFixed(1), name: "False Positive rate", nameGap: o.xGap, nameSize: 6.5 }));
    const y = addY(rAxis({ gridIndex: g, min: -0.044, max: 1.144, ticks, position: "left", rotate: 90, fontSize: 6.5, margin: 8, fmt: (v: number) => v.toFixed(1), name: "True Positive rate", nameGap: 23, nameSize: 6.5 }));
    series.push({ type: "line", xAxisIndex: x, yAxisIndex: y, silent: true, showSymbol: false, z: 2, data: [[-0.04, -0.04], [1.04, 1.04]], lineStyle: { color: "#000", width: 0.6 } });
    o.fpr.forEach((f: number[], k: number) => series.push({
      type: "line", xAxisIndex: x, yAxisIndex: y, silent: true, showSymbol: false, step: "end", z: 3,
      data: f.map((v, i) => [v, o.tpr[k][i]]), lineStyle: { color: ROC_COLORS[k], width: 1 },
    }));
    txt(632, o.titleY, o.title, { size: 8.5, weight: "bold", align: "center" });
    o.legY.forEach((ly: number, k: number) => {
      gline(607, ly, 615, ly, ROC_COLORS[k], 1);
      txt(621, ly, `${ROC_LABELS[k]} ( AUC =  ${o.auc[k].toFixed(3)} )`, { size: 6 });
    });
  };
  roc({ top: 518, h: 138, xGap: 26, fpr: G_FPR, tpr: G_TPR, auc: G_AUC, title: "TCGA SurvivalROC", titleY: 497, legY: [620, 631, 642] });
  roc({ top: 747, h: 137, xGap: 28, fpr: J_FPR, tpr: J_TPR, auc: J_AUC, title: "GEO SurvivalROC", titleY: 729, legY: [848, 861, 872] });

  return {
    animation: false,
    backgroundColor: "#fff",
    textStyle: { fontFamily: FONT },
    grid, xAxis, yAxis, series, graphic,
  };
}

export default function App() {
  const ref = useRef<HTMLDivElement>(null);
  useEffect(() => {
    document.body.style.margin = "0";
    const chart = echarts.init(ref.current as HTMLDivElement, null, { renderer: "svg" });
    chart.setOption(buildOption() as any);
    return () => chart.dispose();
  }, []);
  return <div ref={ref} style={{ width: 778, height: 944, background: "#fff" }} />;
}
